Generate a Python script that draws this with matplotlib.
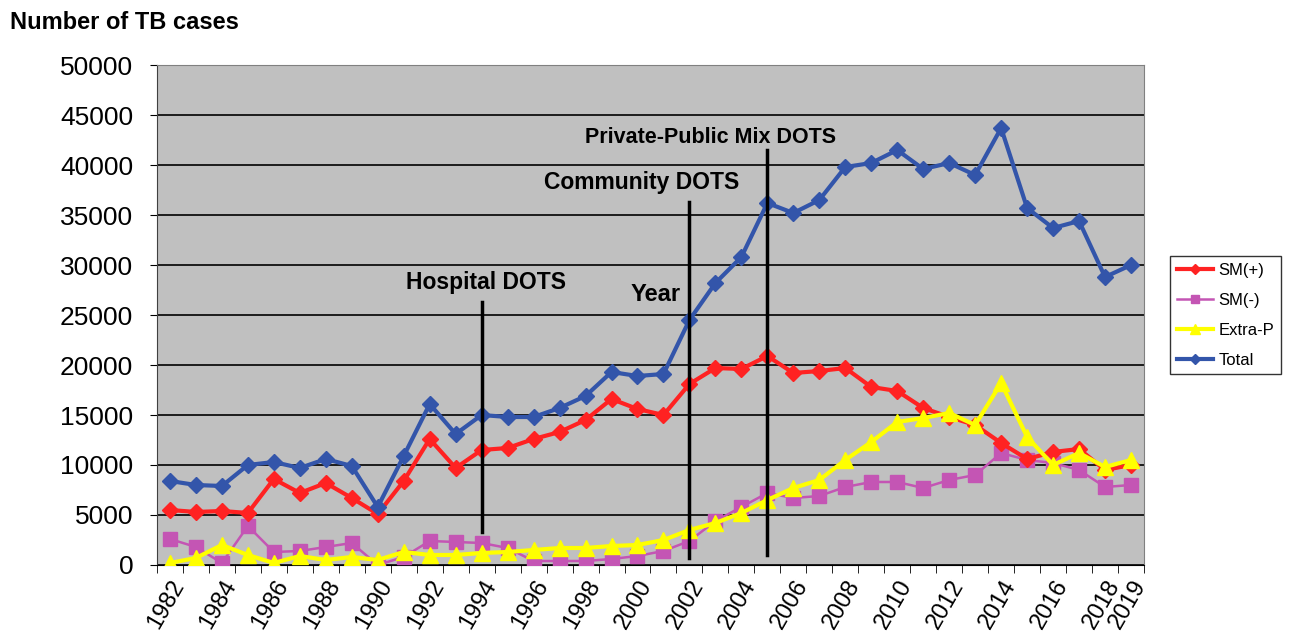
import numpy as np
import matplotlib.pyplot as plt

plt.rcParams['font.family'] = ['Liberation Sans', 'DejaVu Sans']

# 数据
years = list(range(1982, 2020))
sm_pos = [5500, 5300, 5400, 5200, 8600, 7200, 8200, 6700, 5100, 8400,
          12600, 9700, 11500, 11700, 12600, 13300, 14500, 16600, 15600, 15000,
          18100, 19700, 19600, 20900, 19200, 19400, 19700, 17800, 17400, 15700,
          14800, 14000, 12200, 10600, 11300, 11600, 9500, 10000]
sm_neg = [2600, 1800, 200, 3900, 1300, 1400, 1800, 2200, 0, 800,
          2400, 2300, 2200, 1700, 400, 400, 400, 600, 900, 1400,
          2400, 4400, 5800, 7200, 6700, 6900, 7800, 8300, 8300, 7700,
          8500, 9000, 11200, 10500, 10200, 9500, 7800, 8000]
extra_p = [200, 700, 2000, 1000, 200, 900, 500, 800, 500, 1300,
           1000, 1000, 1200, 1300, 1500, 1700, 1700, 1900, 2000, 2500,
           3500, 4200, 5200, 6500, 7700, 8500, 10500, 12300, 14300, 14700,
           15200, 14000, 18200, 12800, 10000, 11200, 9800, 10500]
total = [8400, 8000, 7900, 10000, 10300, 9700, 10600, 9900, 5800, 10900,
         16100, 13100, 15000, 14800, 14800, 15700, 16900, 19300, 18900, 19100,
         24500, 28200, 30800, 36200, 35200, 36500, 39800, 40200, 41500, 39600,
         40200, 39000, 43700, 35700, 33700, 34400, 28800, 30000]

# 注释竖线: (年份, 起点, 终点)
events = [(1994, 3300, 26300),
          (2002, 700, 36300),
          (2005, 1000, 41500)]

x = np.arange(len(years))

fig = plt.figure(figsize=(12.95, 6.4), dpi=100)
ax = fig.add_axes([0.1212, 0.1172, 0.7622, 0.7812])
ax.set_facecolor('#C0C0C0')

ax.plot(x, sm_pos, color='#FF2222', lw=3, marker='D', ms=8, label='SM(+)', zorder=4)
ax.plot(x, sm_neg, color='#C455B4', lw=1.8, marker='s', ms=10, label='SM(-)', zorder=3)
ax.plot(x, extra_p, color='#FFFF00', lw=3, marker='^', ms=11, label='Extra-P', zorder=5)
ax.plot(x, total, color='#3355AA', lw=3, marker='D', ms=8, label='Total', zorder=4)

for yr, y0, y1 in events:
    i = years.index(yr)
    ax.plot([i, i], [y0, y1], color='black', lw=2.5, zorder=6)

ax.text(years.index(1994) + 0.15, 27100, 'Hospital DOTS', ha='center', va='bottom',
        fontsize=16.5, fontweight='bold')
ax.text(years.index(2002) - 1.85, 37100, 'Community DOTS', ha='center', va='bottom',
        fontsize=16.5, fontweight='bold')
ax.text(years.index(2005) - 2.2, 41700, 'Private-Public Mix DOTS', ha='center', va='bottom',
        fontsize=15.5, fontweight='bold')
ax.text(years.index(2002) - 1.3, 25900, 'Year', ha='center', va='bottom',
        fontsize=17, fontweight='bold')

ax.set_xlim(-0.5, len(years) - 0.5)
ax.set_ylim(0, 50000)
ax.set_yticks(range(0, 50001, 5000))
ax.tick_params(axis='y', labelsize=19, length=5, direction='out', pad=12)
ax.grid(axis='y', color='black', lw=1.2)
ax.set_axisbelow(True)

# 类别轴：刻度在类别之间，标签每两年一个
ax.set_xticks(np.arange(-0.5, len(years), 1.0), minor=True)
ax.set_xticks(x[::2].tolist() + [x[-1]])
ax.set_xticklabels([str(years[i]) for i in x[::2]] + [str(years[-1])],
                   rotation=60, ha='right', rotation_mode='anchor', fontsize=17)
ax.tick_params(axis='x', which='major', length=0, pad=8)
ax.tick_params(axis='x', which='minor', length=6)

for s in ['top', 'right']:
    ax.spines[s].set_color('#808080')
ax.spines['left'].set_color('#404040')
ax.spines['bottom'].set_color('black')

fig.text(0.008, 0.965, 'Number of TB cases', fontsize=17, fontweight='bold', va='center')

leg = ax.legend(loc='center left', bbox_to_anchor=(1.018, 0.5), fontsize=12,
                frameon=True, fancybox=False, edgecolor='black', handlelength=2.2,
                handletextpad=0.3, markerscale=0.6, borderpad=0.4, labelspacing=0.9)
leg.get_frame().set_linewidth(1.0)

fig.savefig('out.png', dpi=100)
